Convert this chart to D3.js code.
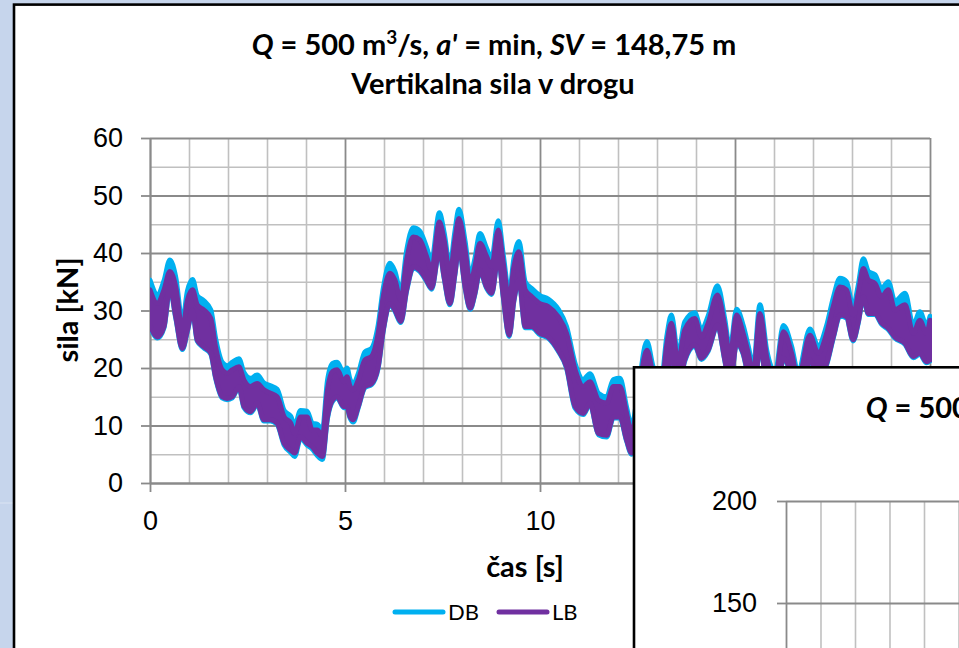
<!DOCTYPE html>
<html><head><meta charset="utf-8">
<title>Vertikalna sila v drogu</title>
<script src="https://cdn.jsdelivr.net/npm/d3@7"></script>
<style>
  body { margin: 0; background: #c6d5ec; }
  svg { display: block; font-family: Lato, "Liberation Sans", sans-serif; }
  .grid-minor line { stroke: #c0c0c0; stroke-width: 1.6; }
  .grid-major line { stroke: #8a8a8a; stroke-width: 1.8; }
  .grid-minor path, .grid-major path { display: none; }
  .axis path, .axis line { stroke: #8a8a8a; stroke-width: 1.8; }
  .axis text { fill: #000; font-size: 27px; }
</style>
</head>
<body>
<svg id="chart" width="959" height="648"></svg>

<script>
// time [s]
var times = [0.00,0.19,0.36,0.51,0.66,0.83,0.96,1.09,1.21,1.38,1.56,1.68,1.85,1.98,2.11,2.28,2.41,2.58,2.75,2.92,
  3.09,3.26,3.44,3.61,3.71,3.86,4.03,4.16,4.29,4.42,4.55,4.68,4.80,4.97,5.05,5.13,5.21,5.34,5.51,5.68,
  5.85,5.98,6.15,6.28,6.43,6.58,6.75,6.92,7.09,7.22,7.42,7.54,7.69,7.82,7.92,8.08,8.21,8.33,8.46,8.63,
  8.76,8.93,9.06,9.21,9.33,9.46,9.62,9.79,10.00,10.21,10.47,10.68,10.90,11.11,11.28,11.50,11.71,11.88,12.05,12.22,
  12.35,12.50,12.74,12.90,13.10,13.25,13.37,13.54,13.71,13.97,14.14,14.31,14.55,14.74,14.87,15.04,15.21,15.34,15.47,15.64,
  15.81,16.03,16.24,16.45,16.62,16.92,17.13,17.35,17.52,17.69,17.86,18.03,18.16,18.29,18.42,18.59,18.76,18.93,19.10,19.36,
  19.57,19.74,19.91,20.00];

// LB - lower / upper edge of the signal [kN]
var lbLow = [27.5,25.4,27.2,34.1,28.9,23.4,26.6,30.1,24.9,23.7,22.6,18.5,15.0,14.7,15.0,16.8,13.3,12.4,13.9,11.0,
  11.0,10.4,6.9,5.7,5.2,8.1,6.9,6.3,5.2,4.6,11.5,14.4,15.0,13.3,13.3,11.5,11.0,13.3,16.8,17.3,
  20.2,26.6,31.2,30.1,28.1,33.6,37.6,37.0,35.3,33.9,40.5,35.9,31.2,36.5,41.1,34.1,30.4,33.0,37.0,34.1,
  33.0,39.4,32.4,25.7,31.8,35.3,27.2,27.2,26.0,25.4,23.1,20.2,13.3,12.1,13.9,8.6,8.3,11.5,11.5,7.5,
  5.2,8.0,18.5,14.0,11.0,17.0,23.0,16.0,21.4,24.0,21.7,23.1,27.5,21.4,17.0,24.3,22.6,18.5,14.0,24.0,
  17.0,13.0,21.7,18.5,13.0,21.4,18.5,20.8,25.4,29.2,28.9,24.9,28.0,32.4,29.5,29.5,27.8,26.9,25.4,24.3,
  22.0,22.6,21.1,21.4];
var lbHigh = [33.6,31.2,33.6,36.8,34.1,26.6,31.8,33.6,31.0,30.1,28.6,23.7,19.7,19.1,19.7,20.2,17.9,16.8,17.3,16.2,
  15.6,15.0,11.5,10.4,8.6,11.5,11.5,9.2,9.2,8.1,16.2,19.4,19.7,17.6,18.5,16.8,16.2,17.9,21.4,22.0,
  26.0,32.4,36.5,35.3,31.8,38.8,42.8,42.3,39.4,37.0,45.4,42.3,36.5,42.3,46.0,40.5,34.7,37.6,41.7,39.4,
  37.6,44.0,38.2,31.8,37.6,40.2,33.6,32.4,31.2,30.7,28.9,26.0,19.7,16.8,17.6,14.4,13.9,16.8,16.8,12.1,
  8.6,14.0,23.1,19.0,16.0,24.0,27.8,21.0,26.6,28.6,25.4,27.8,32.7,27.2,22.0,29.2,26.0,22.6,19.0,29.5,
  22.0,18.0,26.3,22.6,18.0,25.7,22.6,26.0,30.7,34.1,33.6,29.2,33.0,37.3,35.3,34.7,32.4,33.6,30.1,31.0,
  26.0,28.3,26.0,28.3];

// DB - lower / upper edge of the signal [kN]
var dbLow = [27.3,25.2,27.0,33.8,28.7,23.2,26.4,29.9,24.7,23.5,22.4,18.3,14.8,14.5,14.8,16.6,13.1,12.2,13.7,10.8,
  10.8,10.2,6.6,5.3,4.6,7.8,6.6,5.9,4.8,4.1,11.2,14.2,14.8,13.1,13.1,11.3,10.6,13.1,16.6,17.1,
  20.0,26.4,31.0,29.9,27.9,33.4,37.4,36.8,35.1,33.7,40.3,35.7,31.0,36.3,40.9,33.9,30.2,32.8,36.8,33.9,
  32.8,39.2,32.2,25.5,31.6,35.1,27.0,27.0,25.8,25.2,22.9,20.0,13.0,11.9,13.7,8.4,8.0,11.3,11.3,7.3,
  5.0,7.8,18.3,13.8,10.8,16.8,22.8,15.8,21.2,23.8,21.5,22.9,27.3,21.2,16.8,24.1,22.4,18.3,13.8,23.8,
  16.8,12.8,21.5,18.3,12.8,21.2,18.3,20.6,25.2,29.0,28.7,24.7,27.8,32.2,29.3,29.3,27.6,26.7,25.2,24.1,
  21.8,22.4,20.9,21.2];
var dbHigh = [35.3,32.8,35.2,38.8,35.8,28.0,33.4,35.4,32.6,31.7,30.1,25.2,21.0,20.4,21.0,21.6,19.2,18.2,18.8,17.4,
  16.9,16.3,12.6,11.6,10.0,12.6,12.5,10.4,10.2,9.2,17.8,20.8,21.0,19.0,20.0,18.0,17.2,19.0,22.8,23.4,
  27.4,33.8,38.2,36.8,33.2,40.4,44.4,43.8,41.0,38.6,47.0,43.6,37.8,43.8,47.6,42.0,36.0,39.0,43.4,40.8,
  39.0,45.6,39.6,33.0,39.0,42.0,35.0,33.8,32.6,32.0,30.2,27.2,20.8,18.0,19.0,15.6,15.0,18.0,18.2,13.2,
  9.8,15.2,24.6,20.2,17.2,25.4,29.2,22.2,28.0,29.6,26.6,29.0,34.3,28.4,23.2,30.2,27.4,23.8,20.2,31.0,
  23.2,19.2,27.4,23.8,19.2,26.8,23.8,27.4,32.2,35.6,35.0,30.6,34.4,39.0,36.8,36.2,33.8,35.0,31.6,33.0,
  27.4,29.8,27.4,29.0];

var xTicks = [0, 5, 10, 15, 20];
var yTicks = [0, 10, 20, 30, 40, 50, 60];
var y2Ticks = [0, 50, 100, 150, 200];
var seriesNames = ["DB", "LB"];
var seriesColors = ["#00b0f0", "#7030a0"];

var svg = d3.select("#chart");

// background and outer panel
svg.append("rect").attr("width", 959).attr("height", 648).attr("fill", "#c6d5ec");
svg.append("line").attr("x1", 0).attr("x2", 13).attr("y1", 503).attr("y2", 503)
  .attr("stroke", "#dbe4f3").attr("stroke-width", 1);
svg.append("rect").attr("x", 14).attr("y", 4.6).attr("width", 1100).attr("height", 800)
  .attr("fill", "#fff").attr("stroke", "#000").attr("stroke-width", 2.6);

// ---- main chart ----
var x = d3.scaleLinear().domain([0, 20]).range([150, 930]);
var y = d3.scaleLinear().domain([0, 60]).range([483, 138]);

var xMinor = d3.range(0, 21).filter(function(d) { return d % 5 != 0; });
var yMinor = d3.range(5, 60, 10);

d3.axisBottom(x).tickValues(xMinor).tickSize(-(483 - 138)).tickFormat("")(
  svg.append("g").classed("grid-minor", true).attr("transform", "translate(0,483)"));
d3.axisLeft(y).tickValues(yMinor).tickSize(-(930 - 150)).tickFormat("")(
  svg.append("g").classed("grid-minor", true).attr("transform", "translate(150,0)"));
d3.axisBottom(x).tickValues(xTicks).tickSize(-(483 - 138)).tickFormat("")(
  svg.append("g").classed("grid-major", true).attr("transform", "translate(0,483)"));
d3.axisLeft(y).tickValues(yTicks).tickSize(-(930 - 150)).tickFormat("")(
  svg.append("g").classed("grid-major", true).attr("transform", "translate(150,0)"));

var xAxis = d3.axisBottom(x).tickValues(xTicks).tickSize(9).tickSizeOuter(0).tickPadding(19);
xAxis(svg.append("g").classed("axis", true).attr("transform", "translate(0,483)"));
var yAxis = d3.axisLeft(y).tickValues(yTicks).tickSize(9).tickSizeOuter(0).tickPadding(18);
yAxis(svg.append("g").classed("axis", true).attr("transform", "translate(150,0)"));

svg.append("clipPath").attr("id", "plotclip").append("rect")
  .attr("x", 150).attr("y", 120).attr("width", 782).attr("height", 365);

var rows = times.map(function(t, i) {
  return { t: t, lbLo: lbLow[i], lbHi: lbHigh[i], dbLo: dbLow[i], dbHi: dbHigh[i] };
});

function band(lo, hi) {
  return d3.area()
    .x(function(d) { return x(d.t); })
    .y0(function(d) { return y(d[lo]); })
    .y1(function(d) { return y(d[hi]); })
    .curve(d3.curveMonotoneX);
}

var plot = svg.append("g").attr("clip-path", "url(#plotclip)");
plot.append("path").datum(rows).attr("d", band("dbLo", "dbHi"))
  .attr("fill", seriesColors[0]).attr("stroke", seriesColors[0])
  .attr("stroke-width", 5).attr("stroke-linejoin", "round");
plot.append("path").datum(rows).attr("d", band("lbLo", "lbHi"))
  .attr("fill", seriesColors[1]).attr("stroke", seriesColors[1])
  .attr("stroke-width", 5).attr("stroke-linejoin", "round");

// titles
function addTitle(cx, cy) {
  var t = svg.append("text").attr("x", cx).attr("y", cy).attr("text-anchor", "middle")
    .attr("font-weight", "bold").attr("font-size", 29);
  t.append("tspan").attr("font-style", "italic").text("Q");
  t.append("tspan").text(" = 500 m");
  t.append("tspan").attr("font-size", 19).attr("dy", -11).text("3");
  t.append("tspan").attr("dy", 11).text("/s, ");
  t.append("tspan").attr("font-style", "italic").text("a'");
  t.append("tspan").text(" = min, ");
  t.append("tspan").attr("font-style", "italic").text("SV");
  t.append("tspan").text(" = 148,75 m");
}
addTitle(494, 55);
svg.append("text").attr("x", 493).attr("y", 94).attr("text-anchor", "middle")
  .attr("font-weight", "bold").attr("font-size", 29).text("Vertikalna sila v drogu");

svg.append("text").attr("transform", "translate(78,310) rotate(-90)").attr("text-anchor", "middle")
  .attr("font-weight", "bold").attr("font-size", 29).text("sila [kN]");
svg.append("text").attr("x", 525).attr("y", 577).attr("text-anchor", "middle")
  .attr("font-weight", "bold").attr("font-size", 29).text("čas [s]");

// legend
var legend = svg.append("g").selectAll("g").data(seriesNames).join("g")
  .attr("transform", function(d, i) { return "translate(" + (393 + i * 104) + ",612)"; });
legend.append("line").attr("x1", 2).attr("x2", 50)
  .attr("stroke", function(d, i) { return seriesColors[i]; })
  .attr("stroke-width", 5).attr("stroke-linecap", "round");
legend.append("text").attr("x", 55).attr("y", 8).attr("font-size", 22).text(function(d) { return d; });

// ---- second chart panel (overlapping) ----
svg.append("rect").attr("x", 634).attr("y", 367.3).attr("width", 600).attr("height", 500)
  .attr("fill", "#fff").attr("stroke", "#000").attr("stroke-width", 2.6);

var x2 = d3.scaleLinear().domain([0, 22]).range([786, 786 + 22 * 34.5]);
var y2 = d3.scaleLinear().domain([0, 200]).range([909, 501]);

d3.axisBottom(x2).tickValues(d3.range(1, 23)).tickSize(-(909 - 501)).tickFormat("")(
  svg.append("g").classed("grid-minor", true).attr("transform", "translate(0,909)"));
d3.axisLeft(y2).tickValues(y2Ticks).tickSize(-800).tickFormat("")(
  svg.append("g").classed("grid-major", true).attr("transform", "translate(786,0)"));
var y2Axis = d3.axisLeft(y2).tickValues(y2Ticks).tickSize(9).tickSizeOuter(0).tickPadding(20);
y2Axis(svg.append("g").classed("axis", true).attr("transform", "translate(786,0)"));

addTitle(1108, 418);
</script>
</body>
</html>
